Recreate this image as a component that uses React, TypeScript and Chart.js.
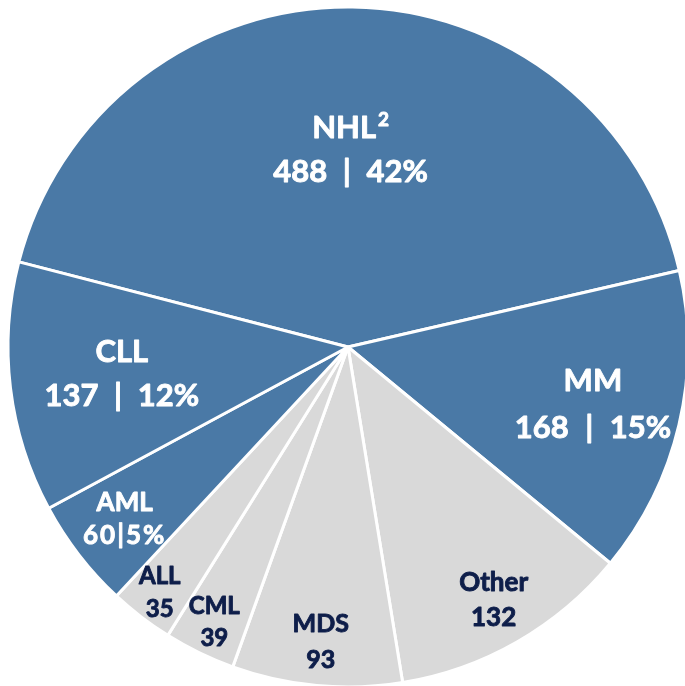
import React, { useEffect, useRef } from "react";
import { Chart, registerables } from "chart.js";

Chart.register(...registerables);

const categories = ["NHL", "MM", "Other", "MDS", "CML", "ALL", "AML", "CLL"];
const values = [488, 168, 132, 93, 39, 35, 60, 137];
const valueLabels = ["488 | 42%", "168 | 15%", "132", "93", "39", "35", "60|5%", "137 | 12%"];
const superscripts = ["2", "", "", "", "", "", "", ""];

const BLUE = "#4A79A6";
const GRAY = "#D9D9D9";
const NAVY = "#0E1E4A";
const sliceColors = [BLUE, BLUE, GRAY, GRAY, GRAY, GRAY, BLUE, BLUE];
const textColors = ["#FFFFFF", "#FFFFFF", NAVY, NAVY, NAVY, NAVY, "#FFFFFF", "#FFFFFF"];
const labelRadius = [0.58, 0.74, 0.86, 0.87, 0.9, 0.91, 0.83, 0.67];
const fontSizes = [31, 31, 26, 25, 24, 24, 26, 31];
const lineGaps = [44, 47, 35, 36, 32, 33, 33, 44];
const wordSpacings = [8, 9, 0, 0, 0, 0, 0, 8];
const letterSpacings = [0, 0, 0, 0, 0, 0, 2, 0];

const FONT = "Lato, 'Open Sans', sans-serif";

function drawText(ctx: any, text: string, x: number, y: number, color: string) {
  ctx.fillStyle = color;
  ctx.strokeStyle = color;
  ctx.lineWidth = 0.9;
  ctx.lineJoin = "round";
  ctx.fillText(text, x, y);
  ctx.strokeText(text, x, y);
}

const labelPlugin = {
  id: "sliceLabels",
  afterDatasetsDraw(chart: any) {
    const ctx = chart.ctx;
    const meta = chart.getDatasetMeta(0);
    meta.data.forEach((arc: any, i: number) => {
      const { x, y, startAngle, endAngle, outerRadius } = arc.getProps(
        ["x", "y", "startAngle", "endAngle", "outerRadius"],
        true
      );
      const mid = (startAngle + endAngle) / 2;
      const r = outerRadius * labelRadius[i];
      const cx = x + Math.cos(mid) * r;
      const cy = y + Math.sin(mid) * r;
      const fs = fontSizes[i];
      const gap = lineGaps[i];
      const color = textColors[i];
      ctx.save();
      ctx.textAlign = "center";
      ctx.textBaseline = "middle";
      ctx.font = `bold ${fs}px ${FONT}`;
      const name = categories[i];
      const sup = superscripts[i];
      if (sup) {
        const w = ctx.measureText(name).width;
        const supFont = `bold ${Math.round(fs * 0.6)}px ${FONT}`;
        ctx.font = supFont;
        const sw = ctx.measureText(sup).width;
        const total = w + sw + 2;
        ctx.textAlign = "left";
        ctx.font = `bold ${fs}px ${FONT}`;
        drawText(ctx, name, cx - total / 2, cy - gap / 2, color);
        ctx.font = supFont;
        drawText(ctx, sup, cx - total / 2 + w + 2, cy - gap / 2 - fs * 0.26, color);
      } else {
        drawText(ctx, name, cx, cy - gap / 2, color);
      }
      ctx.textAlign = "center";
      ctx.font = `bold ${fs}px ${FONT}`;
      (ctx as any).wordSpacing = `${wordSpacings[i]}px`;
      (ctx as any).letterSpacing = `${letterSpacings[i]}px`;
      drawText(ctx, valueLabels[i], cx, cy + gap / 2, color);
      ctx.restore();
    });
  },
};

export default function App() {
  const ref = useRef<HTMLCanvasElement>(null);
  useEffect(() => {
    if (!ref.current) return;
    const chart = new Chart(ref.current, {
      type: "pie",
      data: {
        labels: categories,
        datasets: [
          {
            data: values,
            backgroundColor: sliceColors,
            borderColor: "#FFFFFF",
            borderWidth: 3,
          },
        ],
      },
      options: {
        responsive: false,
        animation: false,
        rotation: -75.5,
        radius: 340,
        layout: { padding: 0 },
        plugins: {
          legend: { display: false },
          tooltip: { enabled: false },
        },
      },
      plugins: [labelPlugin],
    });
    return () => chart.destroy();
  }, []);
  return (
    <div
      style={{
        position: "fixed",
        left: 0,
        top: 0,
        width: 685,
        height: 686,
        overflow: "hidden",
        background: "#FFFFFF",
      }}
    >
      <canvas ref={ref} width={696} height={694} style={{ display: "block" }} />
    </div>
  );
}
